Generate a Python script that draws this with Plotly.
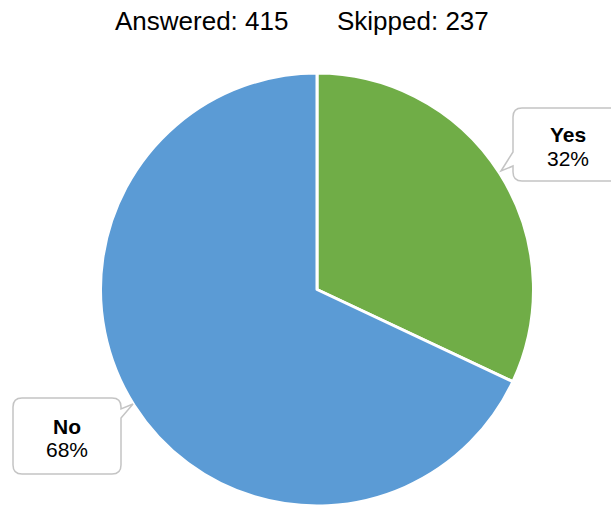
import plotly.graph_objects as go

W, H = 611, 506

labels = ["Yes", "No"]
values = [32, 68]
colors = ["#70AD47", "#5B9BD5"]
answered = 415
skipped = 237

FONT = "Liberation Sans, Arial, sans-serif"


def px(x):
    return x / W


def py(y):
    return 1 - y / H


def callout_path(l, t, r, b, rad, pointer):
    """Rounded-rect path in pixel space with a pointer; returns paper-coord SVG path."""
    pts = []
    def P(cmd, *xy):
        coords = []
        for i in range(0, len(xy), 2):
            coords.append(f"{px(xy[i]):.5f},{py(xy[i+1]):.5f}")
        pts.append(cmd + " ".join(coords))
    side, a, b2, tip = pointer
    P("M", l + rad, t)
    P("L", r - rad, t)
    P("Q", r, t, r, t + rad)
    if side == "right":
        P("L", r, a)
        P("L", tip[0], tip[1])
        P("L", r, b2)
    P("L", r, b - rad)
    P("Q", r, b, r - rad, b)
    P("L", l + rad, b)
    P("Q", l, b, l, b - rad)
    if side == "left":
        P("L", l, b2)
        P("L", tip[0], tip[1])
        P("L", l, a)
    P("L", l, t + rad)
    P("Q", l, t, l + rad, t)
    pts.append("Z")
    return " ".join(pts)


fig = go.Figure()
fig.add_trace(go.Pie(
    labels=labels,
    values=values,
    sort=False,
    direction="clockwise",
    rotation=0,
    marker=dict(colors=colors, line=dict(color="white", width=3)),
    textinfo="none",
    hoverinfo="label+percent",
    showlegend=False,
    domain=dict(x=[px(100), px(534)], y=[0, 433 / H]),
))

shapes = [
    dict(type="path", xref="paper", yref="paper",
         path=callout_path(513, 108, 660, 181, 9, ("left", 152, 166, (501, 171))),
         line=dict(color="#C4C4C4", width=1.5), fillcolor="white", layer="above"),
    dict(type="path", xref="paper", yref="paper",
         path=callout_path(13, 398, 121, 474, 9, ("right", 409, 418, (133, 404))),
         line=dict(color="#C4C4C4", width=1.5), fillcolor="white", layer="above"),
]

label_pos = {"Yes": (568, 134, 158), "No": (67, 426, 449)}
annotations = []
for lab, val in zip(labels, values):
    cx, y1, y2 = label_pos[lab]
    annotations.append(dict(x=px(cx), y=py(y1), xref="paper", yref="paper",
                            text=f"<b>{lab}</b>", showarrow=False,
                            xanchor="center", yanchor="middle",
                            font=dict(family=FONT, size=21, color="#000000")))
    annotations.append(dict(x=px(cx), y=py(y2), xref="paper", yref="paper",
                            text=f"{val}%", showarrow=False,
                            xanchor="center", yanchor="middle",
                            font=dict(family=FONT, size=21, color="#000000")))

annotations.append(dict(x=px(113), y=py(21), xref="paper", yref="paper",
                        text=f"Answered: {answered}", showarrow=False,
                        xanchor="left", yanchor="middle",
                        font=dict(family=FONT, size=26, color="#000000")))
annotations.append(dict(x=px(335), y=py(21), xref="paper", yref="paper",
                        text=f"Skipped: {skipped}", showarrow=False,
                        xanchor="left", yanchor="middle",
                        font=dict(family=FONT, size=26, color="#000000")))

fig.update_layout(
    width=W, height=H,
    margin=dict(l=0, r=0, t=0, b=0),
    paper_bgcolor="white", plot_bgcolor="white",
    shapes=shapes, annotations=annotations,
)

fig.write_html("out.html",
               config={"displayModeBar": False},
               post_script="document.body.style.margin='0';document.body.style.overflow='hidden';")
